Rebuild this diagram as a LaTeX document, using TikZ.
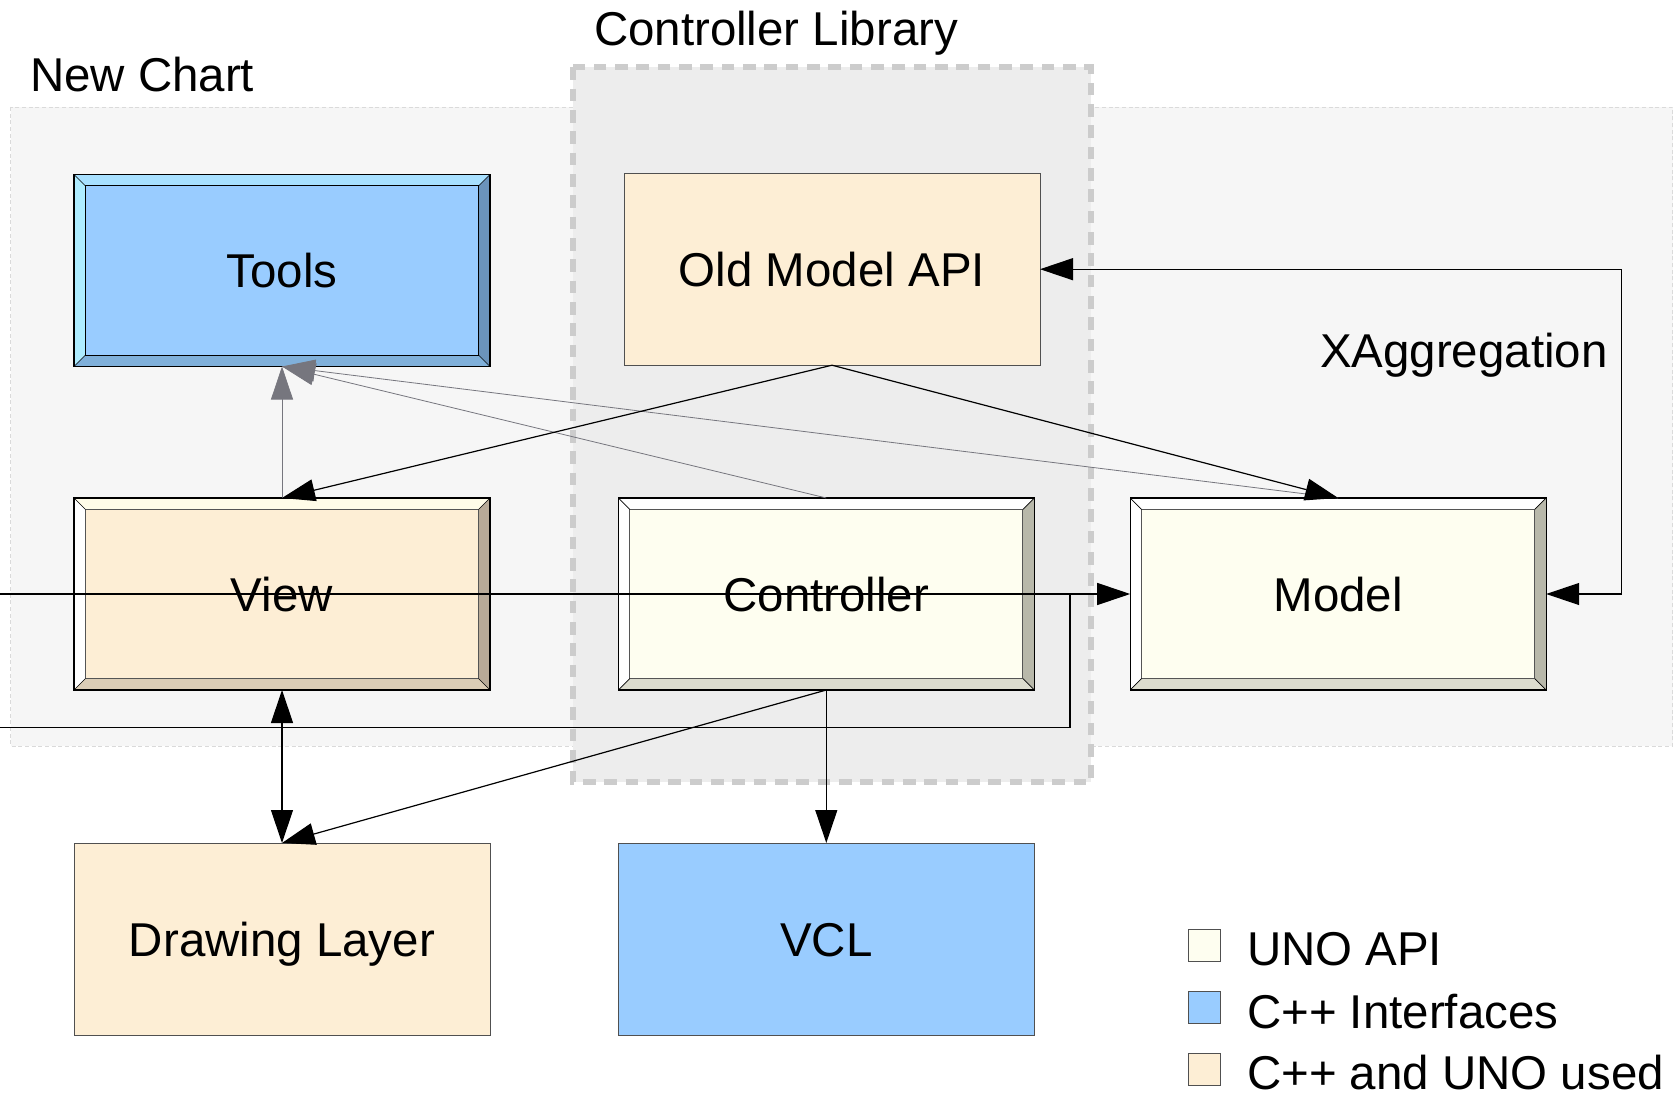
\documentclass[tikz,border=0pt]{standalone}
\usepackage{fontspec}
\setmainfont{Liberation Sans}
\usetikzlibrary{arrows.meta}
\definecolor{peach}{RGB}{253,238,213}
\definecolor{ifblue}{RGB}{153,204,255}
\definecolor{unoivory}{RGB}{254,254,240}
\definecolor{boxline}{RGB}{80,80,80}
\definecolor{innerline}{RGB}{85,85,85}
\definecolor{chartbg}{RGB}{246,246,246}
\definecolor{chartborder}{RGB}{218,218,218}
\definecolor{libbg}{RGB}{237,237,237}
\definecolor{libborder}{RGB}{204,204,204}
\definecolor{lingray}{RGB}{118,118,126}
\definecolor{tooltop}{RGB}{168,224,255}
\definecolor{toolleft}{RGB}{174,236,255}
\definecolor{toolright}{RGB}{107,147,187}
\definecolor{toolbottom}{RGB}{128,176,218}
\definecolor{viewtop}{RGB}{255,252,232}
\definecolor{viewright}{RGB}{184,170,152}
\definecolor{viewbottom}{RGB}{219,205,182}
\definecolor{unoright}{RGB}{184,184,170}
\definecolor{unobottom}{RGB}{220,220,206}
\newcommand\bvw{8.6pt}
\tikzset{
  every node/.style={font=\fontsize{35.6pt}{42pt}\selectfont, inner sep=0pt, outer sep=0pt},
  boxsize/.style={minimum width=312pt, minimum height=144pt, text height=25.5pt, text depth=0pt},
  flatbox/.style={boxsize, draw=boxline, line width=0.7pt, fill=#1},
  bevelbox/.style n args={6}{boxsize, fill=#1, draw=black, line width=0.9pt,
    path picture={
      \coordinate (pA) at (path picture bounding box.north west);
      \coordinate (pB) at (path picture bounding box.north east);
      \coordinate (pC) at (path picture bounding box.south east);
      \coordinate (pD) at (path picture bounding box.south west);
      \coordinate (qA) at ([shift={(\bvw,-\bvw)}]pA);
      \coordinate (qB) at ([shift={(-\bvw,-\bvw)}]pB);
      \coordinate (qC) at ([shift={(-\bvw,\bvw)}]pC);
      \coordinate (qD) at ([shift={(\bvw,\bvw)}]pD);
      \fill[#2] (pA) -- (pB) -- (qB) -- (qA) -- cycle;
      \fill[#3] (pA) -- (qA) -- (qD) -- (pD) -- cycle;
      \fill[#4] (pB) -- (pC) -- (qC) -- (qB) -- cycle;
      \fill[#5] (pD) -- (qD) -- (qC) -- (pC) -- cycle;
      \draw[#6, line width=0.8pt] (qA) rectangle (qC);
      \draw[black, line width=0.5pt] (pA) -- (qA) (pB) -- (qB) (pC) -- (qC) (pD) -- (qD);
    }},
  blk/.style={draw=black, line width=0.9pt},
  gry/.style={draw=lingray, line width=0.6pt},
  tipb/.style={-{Triangle[length=24.75pt, width=16.5pt]}},
  tipg/.style={-{Triangle[length=24.75pt, width=16.5pt, fill=lingray]}},
  legsq/.style={draw=boxline, line width=0.7pt, fill=#1, minimum width=24pt, minimum height=24pt},
  lbl/.style={anchor=base west},
}
\begin{document}
\begin{tikzpicture}[x=0.75pt, y=-0.75pt]
\useasboundingbox (0,0) rectangle (1678,1095);
% regions
\path[fill=chartbg, draw=chartborder, line width=0.5pt, dash pattern=on 3pt off 2pt]
  (10.7,107) rectangle (1672.7,746);
\path[fill=libbg, draw=libborder, line width=4.5pt, dash pattern=on 9.5pt off 6.5pt]
  (572.5,67.4) rectangle (1090.5,782.3);
\node[lbl] (tchart) at (30,92) {New Chart};
\node[lbl] (tlib) at (594,46) {Controller Library};
\node[lbl] (txag) at (1320,367) {XAggregation};
% boxes
\node[bevelbox={ifblue}{tooltop}{toolleft}{toolright}{toolbottom}{black}] (tools) at (282,270.5) {Tools};
\node[flatbox=peach] (oldapi) at (832,269.2) {Old Model API};
\node[bevelbox={peach}{viewtop}{white}{viewright}{viewbottom}{innerline}] (view) at (282,594) {View};
\node[bevelbox={unoivory}{white}{white}{unoright}{unobottom}{innerline}] (ctrl) at (826.3,594) {Controller};
\node[bevelbox={unoivory}{white}{white}{unoright}{unobottom}{innerline}] (model) at (1338.2,594) {Model};
\node[flatbox=peach] (drawing) at (282,939) {Drawing Layer};
\node[flatbox=ifblue] (vcl) at (826.3,939) {VCL};
% legend
\node[legsq=unoivory] (sq1) at (1204,945) {};
\node[legsq=ifblue] (sq2) at (1204,1007) {};
\node[legsq=peach] (sq3) at (1204,1069) {};
\node[lbl] (l1) at (1247,965.5) {UNO API};
\node[lbl] (l2) at (1247,1028.5) {C++ Interfaces};
\node[lbl] (l3) at (1247,1089.5) {C++ and UNO used};
% connectors
\coordinate (inA) at (0,594);
\coordinate (inB) at (0,727.7);
\coordinate (loopB) at (1070,727.7);
\coordinate (loopT) at (1070,594);
\coordinate (xagC) at (1621.4,269.2);
\draw[gry, tipg] (view.north) -- (tools.south);
\draw[gry, tipg] (ctrl.north) -- (tools.south);
\draw[gry, tipg] (model.north) -- (tools.south);
\draw[blk, tipb] (oldapi.south) -- (view.north);
\draw[blk, tipb] (oldapi.south) -- (model.north);
\draw[blk, tipb] (inA) -- (model.west);
\draw[blk] (inB) -- (loopB) -- (loopT);
\draw[blk, tipb] (ctrl.south) -- (vcl.north);
\draw[blk, tipb] (ctrl.south) -- (drawing.north);
\draw[blk, {Triangle[length=24.75pt, width=16.5pt]}-{Triangle[length=24.75pt, width=16.5pt]}] (view.south) -- (drawing.north);
\draw[blk, {Triangle[length=24.75pt, width=16.5pt]}-{Triangle[length=24.75pt, width=16.5pt]}] (model.east) -| (xagC) -- (oldapi.east);
\end{tikzpicture}
\end{document}
